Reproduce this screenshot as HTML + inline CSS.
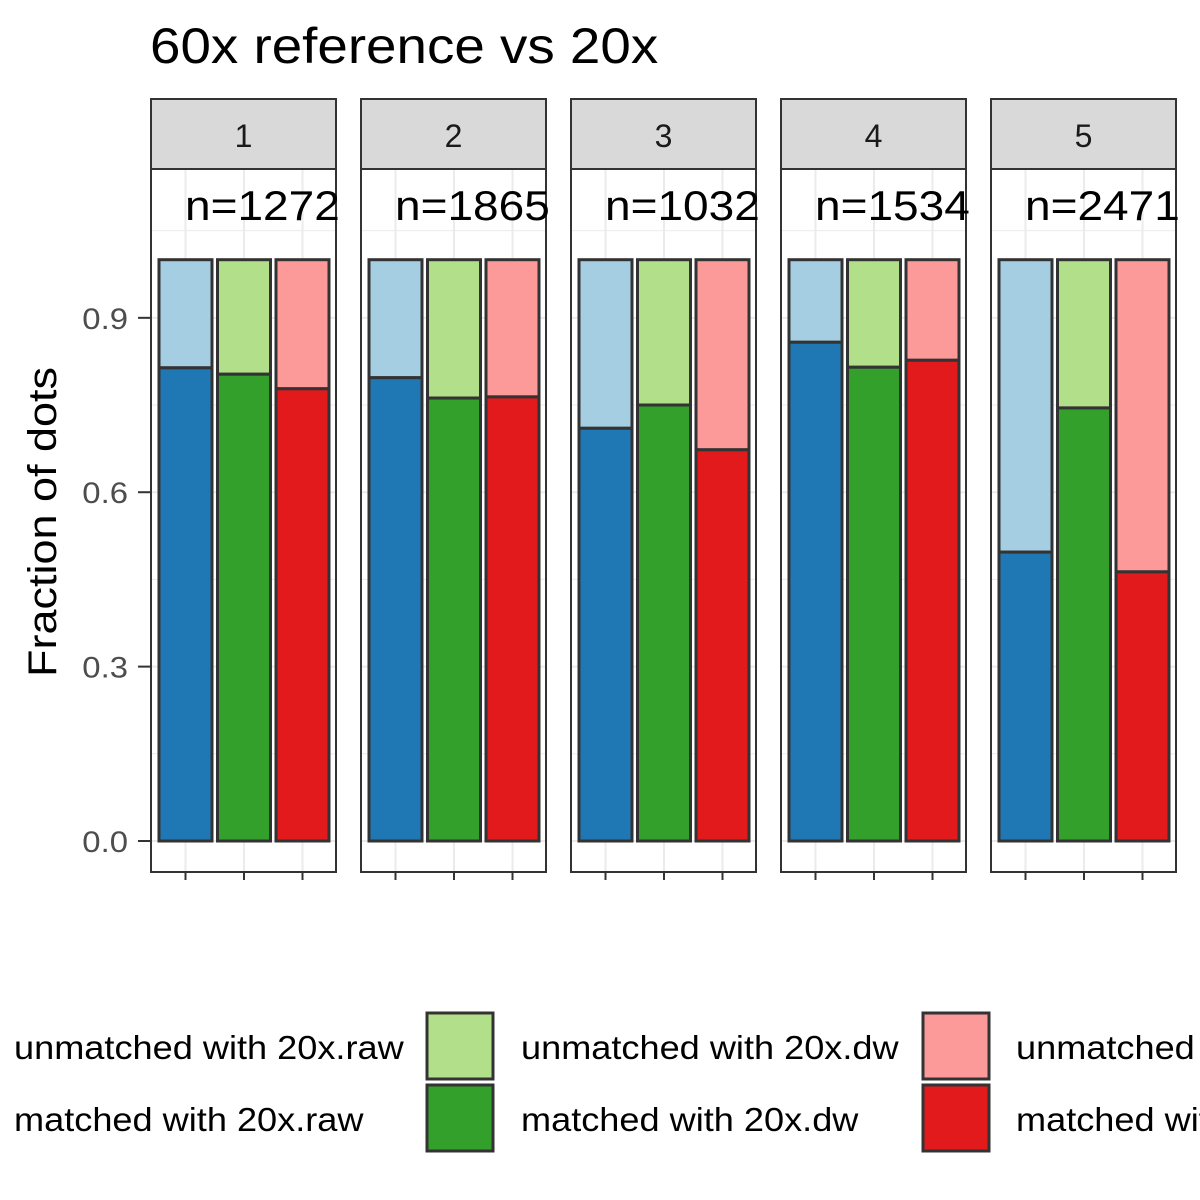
<!DOCTYPE html>
<html><head><meta charset="utf-8"><style>
html,body{margin:0;padding:0;background:#fff;}
svg{display:block;font-family:"Liberation Sans",Arial,sans-serif;}
</style></head><body>
<svg id="chart" width="1200" height="1200" viewBox="0 0 1200 1200">
<text class="st" x="150" y="63" font-size="50" fill="#000">60x reference vs 20x</text>
<text transform="translate(56,522) rotate(-90)" text-anchor="middle" font-size="40" textLength="310" lengthAdjust="spacingAndGlyphs" fill="#000">Fraction of dots</text>
<g id="panels"></g>
<g id="yaxis"></g>
<g id="legend"></g>
</svg>
<script>
const panelLabels = ["1","2","3","4","5"];
const panelCounts = ["n=1272","n=1865","n=1032","n=1534","n=2471"];
const rawMatched = [0.814, 0.797, 0.710, 0.858, 0.497];
const dwMatched = [0.803, 0.762, 0.750, 0.815, 0.745];
const thirdMatched = [0.778, 0.764, 0.673, 0.827, 0.463];
const yTicks = [0, 0.3, 0.6, 0.9];
const yTickLabels = ["0.0","0.3","0.6","0.9"];

const NS="http://www.w3.org/2000/svg";
function mk(tag, attrs, parent){const e=document.createElementNS(NS,tag);for(const k in attrs)e.setAttribute(k,attrs[k]);parent.appendChild(e);return e;}
const y = v => 841 - v*581.3;
const panelX = i => 151 + i*210;
const panelW = 185;
const barCenter = j => 34.5 + j*58.5;
const barW = 53;
const series = [
  {vals: rawMatched, dark:"#1F78B4", light:"#A6CEE3", name:"raw"},
  {vals: dwMatched, dark:"#33A02C", light:"#B2DF8A", name:"dw"},
  {vals: thirdMatched, dark:"#E31A1C", light:"#FB9A99", name:"third"}
];
const panels=document.getElementById('panels');
panelLabels.forEach((lab,i)=>{
  const g=mk('g',{},panels);
  
  
  const px=panelX(i);
  const s=mk('rect',{x:px,y:99,width:panelW,height:70,fill:"#D9D9D9",stroke:"#333",'stroke-width':2},g);
  
  
  const st=mk('text',{x:px+panelW/2,y:147,'text-anchor':'middle','font-size':32,fill:'#1a1a1a'},g);
  st.textContent=lab;
  
  
  for(let v=0; v<=1.051; v+=0.15){
    const major = Math.abs((v/0.3)-Math.round(v/0.3))<0.01;
    mk('line',{x1:px,x2:px+panelW,y1:y(v),y2:y(v),stroke:'#EBEBEB','stroke-width':major?2:1},g);
  }
  for(let j=0;j<3;j++) mk('line',{x1:px+barCenter(j),x2:px+barCenter(j),y1:169,y2:872,stroke:'#EBEBEB','stroke-width':2},g);
  series.forEach((sr,j)=>{
    const cx=px+barCenter(j), v=sr.vals[i];
    const t=mk('rect',{x:cx-barW/2,y:y(1),width:barW,height:y(v)-y(1),fill:sr.light,stroke:'#333','stroke-width':3},g);
    
    
    const b=mk('rect',{x:cx-barW/2,y:y(v),width:barW,height:y(0)-y(v),fill:sr.dark,stroke:'#333','stroke-width':3},g);
    
    
  });
  mk('rect',{x:px,y:169,width:panelW,height:703,fill:'none',stroke:'#333','stroke-width':2},g);
  for(let j=0;j<3;j++) mk('line',{x1:px+barCenter(j),x2:px+barCenter(j),y1:872,y2:880,stroke:'#333','stroke-width':2},g);
  const nt=mk('text',{x:px+34,y:220,'font-size':42,fill:'#000',class:'st'},g);
  nt.textContent=panelCounts[i];
  
  
});
const ya=document.getElementById('yaxis');
yTicks.forEach((v,k)=>{
  mk('line',{x1:138,x2:151,y1:y(v),y2:y(v),stroke:'#333','stroke-width':2},ya);
  const t=mk('text',{x:128,y:y(v)+11,'text-anchor':'end','font-size':30,fill:'#4D4D4D',class:'st'},ya);
  t.textContent=yTickLabels[k];
  
  
});
const lg=document.getElementById('legend');
const legX=[-70,427,923], legTx=[14,521,1016];
const legNames=["20x.raw","20x.dw","20x.third"];
series.forEach((sr,j)=>{
  [["unmatched",sr.light,1013],["matched",sr.dark,1085]].forEach(([kind,col,ky])=>{
    const r=mk('rect',{x:legX[j],y:ky,width:66,height:66,fill:col,stroke:'#333','stroke-width':3},lg);
    
    
    const t=mk('text',{x:legTx[j],y:ky+46,'font-size':33,fill:'#000',class:'st'},lg);
    t.textContent=kind+' with '+legNames[j];
    
    
  });
});
// stretch text horizontally to match reference font width
document.querySelectorAll('text.st').forEach(t=>{
  const w=t.getComputedTextLength();
  t.setAttribute('textLength',(w*1.095).toFixed(1));
  t.setAttribute('lengthAdjust','spacingAndGlyphs');
});
</script>
</body></html>
